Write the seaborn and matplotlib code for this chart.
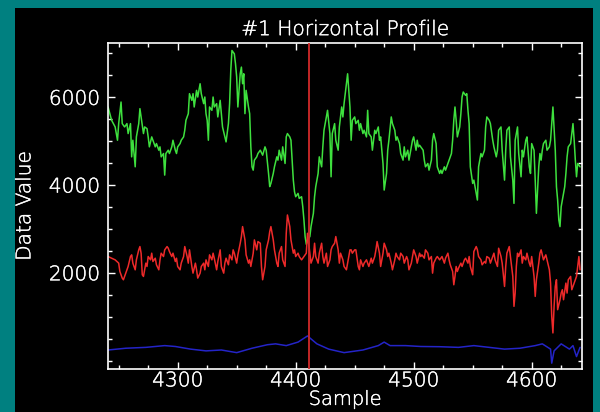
import numpy as np
import pandas as pd
import matplotlib
matplotlib.use("Agg")
import matplotlib.pyplot as plt
import matplotlib.patheffects as pe
from matplotlib.ticker import MultipleLocator, FixedLocator
from matplotlib.patches import Rectangle
import seaborn as sns

sns.set_style("dark")
plt.rcParams['font.family'] = ['DejaVu Sans']

title = "#1 Horizontal Profile"
x_label = "Sample"
y_label = "Data Value"
marker_sample = 4411

green_x = [4241, 4244, 4247, 4249, 4250, 4252, 4253, 4255, 4257, 4258, 4260, 4261, 4262, 4264, 4265, 4267, 4268, 4269, 4271, 4272,
           4274, 4275, 4276, 4278, 4279, 4281, 4282, 4284, 4285, 4286, 4288, 4289, 4290, 4292, 4293, 4295, 4296, 4298, 4299, 4300,
           4302, 4303, 4305, 4306, 4307, 4309, 4310, 4312, 4313, 4314, 4316, 4317, 4319, 4320, 4322, 4323, 4324, 4325, 4326, 4327,
           4329, 4330, 4331, 4333, 4334, 4336, 4337, 4338, 4340, 4341, 4343, 4344, 4345, 4346, 4348, 4349, 4350, 4351, 4353, 4354,
           4355, 4356, 4357, 4358, 4360, 4361, 4362, 4363, 4364, 4365, 4367, 4368,
           4370, 4372, 4374, 4375, 4377, 4378, 4379, 4381, 4382, 4384, 4385, 4386, 4388, 4389, 4391, 4392, 4393, 4395, 4396, 4398,
           4399, 4400, 4402, 4403, 4405, 4406, 4407, 4408, 4409, 4410, 4412, 4413, 4415, 4416, 4417, 4419, 4420, 4422, 4423, 4424,
           4426, 4427, 4429, 4430, 4431, 4433, 4434, 4436, 4437, 4439, 4440, 4441, 4443, 4444, 4445, 4446, 4447, 4448, 4450, 4451,
           4453, 4454, 4455, 4457, 4458, 4460, 4461, 4462, 4464, 4465, 4467, 4468, 4470, 4471, 4472, 4474, 4475, 4477, 4478, 4479,
           4481, 4482, 4484, 4485, 4486, 4488, 4489, 4491, 4492, 4493, 4495, 4496, 4498, 4499, 4500, 4502, 4503, 4504,
           4505, 4506, 4508, 4509, 4510, 4512, 4513, 4515, 4516, 4517, 4519, 4520, 4522, 4523, 4524, 4526, 4527, 4529, 4530, 4532,
           4533, 4534, 4535, 4536, 4537, 4539, 4540, 4541, 4542, 4544, 4545, 4546, 4547, 4548, 4550, 4551, 4553, 4554, 4555, 4557,
           4558, 4560, 4561, 4562, 4564, 4565, 4567, 4568, 4570, 4571, 4572, 4574, 4575, 4577, 4578, 4579, 4581, 4582, 4584, 4585,
           4586, 4588, 4589, 4591, 4592, 4593, 4595, 4596, 4598, 4599, 4600, 4602, 4603, 4604, 4606, 4607, 4608, 4609, 4610, 4612,
           4613, 4615, 4616, 4617, 4618, 4620, 4621, 4622, 4623, 4624, 4625, 4626, 4628, 4629, 4630, 4631, 4633, 4634, 4635, 4636,
           4637, 4638, 4639, 4641]
green_y = [5780, 5477, 5325, 5022, 5401, 5893, 5401, 5325, 5401, 5174, 5401, 4643, 5022, 4416, 5098, 5401, 5742, 5553, 5174, 5325,
           5287, 5098, 4871, 5098, 5022, 4871, 4946, 4795, 4871, 4643, 4719, 4227, 4719, 4795, 4719, 4871, 5022, 4795, 4719, 4871,
           4946, 5022, 5098, 5250, 5477, 5628, 6083, 5931, 6083, 5780, 6159, 6007, 6310, 6083, 5856, 6007, 5628, 5477, 5022, 5780,
           5704, 6007, 5780, 5856, 5553, 5931, 5628, 5325, 5098, 4984, 5401, 5856, 6613, 7068, 6992, 6765, 6462, 5780, 6537, 6689,
           6310, 6537, 5628, 6159, 5780, 5628, 4871, 4416, 4340, 4568, 4643, 4719,
           4795, 4681, 4871, 4795, 4265, 3965, 4037, 4265, 4416, 4643, 4568, 4795, 4568, 4871, 4492, 5098, 5174, 5098, 5022, 4113,
           3848, 3734, 3810, 3696, 3734, 3507, 3204, 2825, 2650, 2750, 2825, 3053, 3356, 3734, 3962, 4265, 4643, 4416, 4871, 5250,
           5553, 5704, 5174, 4189, 5174, 5401, 5022, 4795, 5325, 5780, 5553, 5856, 6310, 6537, 6159, 5780, 5022, 5477, 5553, 5401,
           5477, 5250, 5401, 5174, 5250, 5098, 5704, 5174, 5098, 4795, 5250, 5174, 5325, 5022, 5098, 4492, 3886, 4265, 4795, 5022,
           5553, 5401, 5250, 5022, 5098, 4946, 4719, 4568, 4871, 4643, 4795, 4568, 4871, 5022, 5098, 4795, 5022, 4871,
           4908, 4871, 4795, 4568, 4416, 4492, 4340, 4568, 5022, 5174, 4946, 4416, 4265, 4340, 4265, 4416, 4340, 4492, 4568, 4719,
           5022, 5477, 5780, 5477, 5098, 5325, 5628, 6007, 6121, 6045, 6083, 5704, 5401, 4416, 4037, 4113, 3810, 3659, 4416, 4719,
           4643, 4795, 5325, 5553, 5477, 5401, 5022, 4871, 4643, 4795, 5250, 5325, 4795, 4113, 4795, 5250, 5325, 4643, 4113, 3583,
           5022, 5325, 4719, 4189, 4795, 4643, 5022, 5098, 4416, 4265, 4946, 4795, 4113, 3356, 4416, 4719, 4568, 4795, 4946, 5022,
           4795, 4871, 5022, 5401, 5780, 4795, 3962, 3659, 3204, 3053, 3507, 3659, 3962, 4265, 4643, 4871, 4946, 5174, 5401, 5022,
           4568, 4189, 4492, 4416]

red_x = [4241, 4244, 4247, 4250, 4251, 4253, 4254, 4255, 4257, 4258, 4260, 4261, 4262, 4264, 4265, 4267, 4268, 4269, 4270, 4271,
         4273, 4274, 4275, 4277, 4278, 4279, 4281, 4282, 4284, 4285, 4286, 4288, 4289, 4291, 4292, 4293, 4295, 4296, 4298, 4299,
         4300, 4302, 4303, 4305, 4306, 4308, 4309, 4310, 4312, 4313, 4315, 4316, 4317, 4319, 4320, 4322, 4323, 4324, 4326, 4327,
         4329, 4330, 4331, 4333, 4334, 4336, 4337, 4339, 4340, 4341, 4343, 4344, 4346, 4347, 4348, 4350, 4351, 4353, 4354, 4355,
         4357, 4358, 4360, 4361, 4362, 4364, 4365, 4367, 4368,
         4370, 4371, 4372, 4374, 4375, 4377, 4378, 4379, 4381, 4382, 4384, 4385, 4386, 4388, 4389, 4391, 4392, 4393, 4395, 4396,
         4398, 4399, 4400, 4402, 4403, 4405, 4406, 4407, 4409, 4410, 4412, 4413, 4415, 4416, 4417, 4419, 4420, 4422, 4423, 4424,
         4426, 4427, 4429, 4430, 4431, 4433, 4434, 4436, 4437, 4438, 4440, 4441, 4443, 4444, 4446, 4447, 4448, 4450, 4451, 4453,
         4454, 4455, 4457, 4458, 4460, 4461, 4462, 4464, 4465, 4467, 4468, 4469, 4471, 4472, 4474, 4475, 4477, 4478, 4479, 4481,
         4482, 4484, 4485, 4486, 4488, 4489, 4491, 4492, 4494, 4495, 4496, 4498, 4499, 4500, 4502, 4503,
         4505, 4506, 4507, 4509, 4510, 4512, 4513, 4515, 4516, 4517, 4519, 4520, 4522, 4523, 4524, 4526, 4527, 4529, 4530, 4531,
         4533, 4534, 4535, 4536, 4537, 4538, 4540, 4541, 4543, 4544, 4546, 4547, 4548, 4550, 4551, 4553, 4554, 4555, 4557, 4558,
         4560, 4561, 4562, 4564, 4565, 4567, 4568, 4569, 4571, 4572, 4574, 4575, 4577, 4578, 4579, 4581, 4582, 4584, 4585, 4586,
         4587, 4588, 4589, 4591, 4592, 4593, 4595, 4596, 4598, 4599, 4600, 4602, 4603, 4604, 4606, 4607, 4608, 4609, 4610, 4612,
         4613, 4615, 4616, 4617, 4618, 4619, 4620, 4621, 4622, 4624, 4625, 4626, 4627, 4629, 4630, 4631, 4633, 4634, 4636, 4637,
         4638, 4640, 4641]
red_y = [2371, 2333, 2295, 2220, 2030, 1879, 1841, 1917, 2068, 2144, 2371, 2409, 2220, 2068, 2295, 2523, 2598, 2447, 1955, 1917,
         2220, 2144, 2371, 2295, 2447, 2257, 2333, 2182, 2068, 2295, 2447, 2371, 2523, 2598, 2560, 2485, 2371, 2447, 2257, 2333,
         2144, 2068, 2220, 2371, 2598, 2371, 2220, 2523, 2144, 1992, 2220, 2068, 1879, 1992, 2144, 2220, 2068, 2295, 2144, 2409,
         2295, 2447, 2333, 2068, 2257, 2523, 2144, 1992, 2220, 2333, 2182, 2409, 2295, 2523, 2447, 2220, 2409, 2674, 2826, 3053,
         2750, 2409, 2220, 2295, 2144, 2447, 2750, 2523, 2712,
         2674, 2144, 1841, 2144, 2523, 2750, 2939, 3053, 2750, 2523, 2220, 2144, 2447, 2598, 2295, 2144, 2901, 3318, 3053, 2750,
         2447, 2523, 2371, 2447, 2371, 2295, 2333, 2371, 2447, 2901, 2447, 2220, 2371, 2674, 2371, 2220, 2447, 2674, 2371, 2220,
         2447, 2144, 2295, 2523, 2598, 2674, 2826, 2523, 2220, 2447, 2295, 2144, 2068, 2220, 2523, 2523, 2447, 2523, 2523, 2144,
         2068, 2295, 2144, 2220, 2295, 2220, 2144, 2333, 2220, 2371, 2523, 2712, 2447, 2144, 2447, 2674, 2523, 2371, 2447, 2220,
         2068, 2295, 2447, 2371, 2295, 2447, 2371, 2220, 2371, 2295, 2068, 2220, 2371, 2523, 2371, 2220,
         2447, 2371, 2409, 2333, 2523, 2447, 2295, 2371, 1992, 2220, 2333, 2371, 2295, 2333, 2371, 2220, 2333, 2447, 2295, 2182,
         2030, 1727, 1917, 2144, 2030, 2106, 2220, 2144, 2295, 2333, 2220, 2371, 2144, 1955, 2485, 2598, 2523, 2371, 2295, 2182,
         2257, 2220, 2371, 2333, 2220, 2371, 2447, 2295, 2144, 2560, 2371, 2220, 1689, 2144, 2447, 2598, 2371, 1917, 1235, 1538,
         2144, 2447, 2371, 2523, 2220, 2371, 2295, 2447, 2220, 2144, 2371, 1917, 1462, 1841, 2220, 2447, 2523, 2409, 2295, 2409,
         2295, 2068, 1765, 1008, 629, 1235, 1689, 1841, 1159, 1386, 1538, 1614, 1386, 1765, 1538, 1841, 1917, 1614, 1765, 1841,
         1917, 2371, 2068]

blue_x = [4241, 4256, 4273, 4289, 4298, 4311, 4324, 4337, 4350, 4363, 4376, 4383, 4392, 4402, 4410, 4418, 4428, 4441, 4457, 4470,
          4475, 4480, 4493, 4506, 4522, 4538, 4551, 4564, 4577, 4590, 4603, 4609, 4616, 4617, 4619, 4625, 4632, 4635, 4638, 4641]
blue_y = [240, 280, 300, 340, 320, 260, 220, 240, 180, 280, 360, 380, 340, 420, 560, 380, 260, 180, 240, 340,
          420, 340, 340, 320, 315, 300, 340, 300, 260, 280, 340, 380, 260, -60, 220, 380, 260, 340, 90, 300]

x_ticks = [4300, 4400, 4500, 4600]
y_ticks = [2000, 4000, 6000]

teal = "#008080"
W, H = 600, 412
fig = plt.figure(figsize=(6.0, 4.12), dpi=100, facecolor=teal)
fig.patches.append(Rectangle((15 / W, 0), 578 / W, (H - 8.3) / H, transform=fig.transFigure,
                             facecolor="black", edgecolor="none", zorder=-10))
ax_l, ax_r, ax_t, ax_b = 108.3, 582.3, 42.5, 369.3
ax = fig.add_axes([ax_l / W, 1 - ax_b / H, (ax_r - ax_l) / W, (ax_b - ax_t) / H])
ax.set_facecolor("black")

df_g = pd.DataFrame({"x": green_x, "y": green_y})
df_r = pd.DataFrame({"x": red_x, "y": red_y})
df_b = pd.DataFrame({"x": blue_x, "y": blue_y})
sns.lineplot(data=df_g, x="x", y="y", ax=ax, color="#3ee03e", lw=1.1, estimator=None, sort=False)
sns.lineplot(data=df_r, x="x", y="y", ax=ax, color="#ee2a2a", lw=1.1, estimator=None, sort=False)
sns.lineplot(data=df_b, x="x", y="y", ax=ax, color="#2424c8", lw=1.1, estimator=None, sort=False)
ax.axvline(marker_sample, color="#d22a2a", lw=1.3, zorder=5)

ax.set_xlim(4241.2, 4642.9)
ax.set_ylim(-200, 7250)
ax.grid(False)
ax.xaxis.set_major_locator(FixedLocator(x_ticks))
ax.xaxis.set_minor_locator(MultipleLocator(25))
ax.yaxis.set_major_locator(FixedLocator(y_ticks))
ax.yaxis.set_minor_locator(MultipleLocator(500))
ax.set_xticklabels([str(t) for t in x_ticks])
ax.set_yticklabels([str(t) for t in y_ticks])

for s in ax.spines.values():
    s.set_color("white")
    s.set_linewidth(1.2)
    s.set_visible(True)
ax.tick_params(which="both", direction="in", colors="white", top=True, right=True, bottom=True, left=True)
ax.tick_params(which="major", length=4.8, width=1.0, labelsize=14.5)
ax.tick_params(which="minor", length=3.1, width=1.0)
ax.tick_params(axis="x", which="major", pad=1.5)
ax.tick_params(axis="y", which="major", pad=6)

ax.set_title(title, color="white", fontsize=14.5, fontweight="light", pad=5.3)
ax.set_xlabel(x_label, color="white", fontsize=14, fontweight="light")
ax.set_ylabel(y_label, color="white", fontsize=14.5, fontweight="light")
ax.xaxis.set_label_coords(0.5, -0.063)
ax.yaxis.set_label_coords(-0.156, 0.5)

stroke = [pe.withStroke(linewidth=0.3, foreground="white")]
for t in ax.get_xticklabels() + ax.get_yticklabels() + [ax.title, ax.xaxis.label, ax.yaxis.label]:
    t.set_fontweight("light")
    t.set_color("white")
    t.set_path_effects(stroke)

fig.savefig("out.png", dpi=100, facecolor=teal)
